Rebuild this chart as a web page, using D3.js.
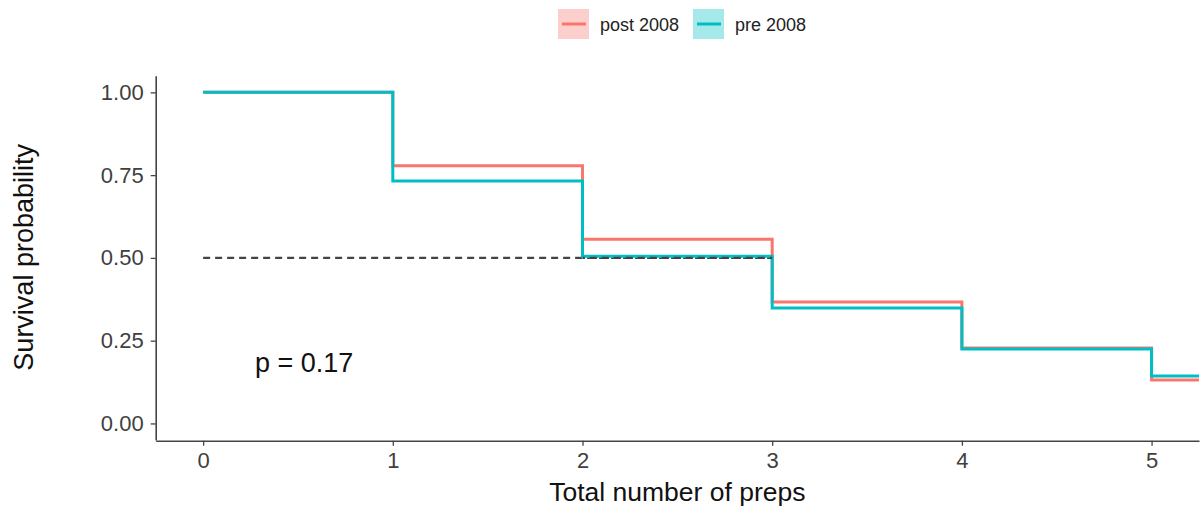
<!DOCTYPE html>
<html>
<head>
<meta charset="utf-8">
<script src="https://cdn.jsdelivr.net/npm/d3@7"></script>
<style>
body { margin:0; background:#fff; }
text { font-family: "Liberation Sans", Arial, sans-serif; }
</style>
</head>
<body>
<div id="chart"></div>
<script>
// data
var times = [0, 1, 2, 3, 4, 5];
var postValues = [1.00, 0.778, 0.556, 0.367, 0.228, 0.131];
var preValues = [1.00, 0.732, 0.505, 0.349, 0.225, 0.143];
var seriesNames = ["post 2008", "pre 2008"];
var seriesColors = ["#F8766D", "#00BFC4"];
var xTicks = [0, 1, 2, 3, 4, 5];
var yTicks = [0, 0.25, 0.5, 0.75, 1];
var medianTime = 3;
var pLabel = "p = 0.17";

var width = 1203, height = 509;
var plot = {left:155.7, right:1199, top:75.8, bottom:440};

var svg = d3.select("#chart").append("svg")
	.attr("width", width)
	.attr("height", height);

var xscale = d3.scaleLinear()
	.domain([-0.25, 5.25])
	.range([plot.left, plot.right]);
var yscale = d3.scaleLinear()
	.domain([-0.05, 1.05])
	.range([plot.bottom, plot.top]);

// axes
var xaxis = d3.axisBottom(xscale).tickValues(xTicks).tickFormat(d3.format("d"))
	.tickSize(5).tickSizeOuter(0).tickPadding(7);
var yaxis = d3.axisLeft(yscale).tickValues(yTicks).tickFormat(d3.format(".2f"))
	.tickSize(5).tickSizeOuter(0).tickPadding(7);

var gx = svg.append("g")
	.attr("transform", "translate(0," + (plot.bottom + 0.7) + ")")
	.call(xaxis);
var gy = svg.append("g")
	.attr("transform", "translate(" + plot.left + ",0)")
	.call(yaxis);

[gx, gy].forEach(function(g){
	g.select(".domain").attr("stroke", "#444").attr("stroke-width", 1.6);
	g.selectAll(".tick line").attr("stroke", "#444").attr("stroke-width", 1.3);
	g.selectAll(".tick text").attr("fill", "#404040").style("font-size", "22px");
});

// median line
function medianLine(from){
	svg.append("line")
		.attr("x1", xscale(from)).attr("x2", xscale(medianTime))
		.attr("y1", yscale(0.5)).attr("y2", yscale(0.5))
		.attr("stroke", "#444")
		.attr("stroke-width", 2.2)
		.attr("stroke-dasharray", "7,5")
		.attr("stroke-dashoffset", -((xscale(from) - xscale(0)) % 12));
}
medianLine(0);

// survival curves
var line = d3.line()
	.x(function(d){ return xscale(d.t); })
	.y(function(d){ return yscale(d.v); })
	.curve(d3.curveStepAfter);

[postValues, preValues].forEach(function(vals, i){
	var pts = times.map(function(t, j){ return {t:t, v:vals[j]}; });
	pts.push({t:5.25, v:vals[vals.length-1]});
	svg.append("path")
		.datum(pts)
		.attr("d", line)
		.attr("fill", "none")
		.attr("stroke", seriesColors[i])
		.attr("stroke-width", 3);
});

// dashed part drawn again over the pre curve, as in the picture
medianLine(2);

// p value
svg.append("text")
	.attr("x", 255)
	.attr("y", 372)
	.attr("fill", "#111")
	.style("font-size", "27px")
	.text(pLabel);

// axis titles
svg.append("text")
	.attr("x", (plot.left + plot.right) / 2)
	.attr("y", 501)
	.attr("text-anchor", "middle")
	.attr("fill", "#111")
	.style("font-size", "26.5px")
	.text("Total number of preps");

svg.append("text")
	.attr("transform", "translate(33," + ((141.7 + 373) / 2) + ") rotate(-90)")
	.attr("text-anchor", "middle")
	.attr("fill", "#111")
	.style("font-size", "27px")
	.text("Survival probability");

// legend
var legendX = [558, 693];
var legend = svg.append("g");
seriesNames.forEach(function(name, i){
	var g = legend.append("g").attr("transform", "translate(" + legendX[i] + ",9)");
	g.append("rect")
		.attr("width", 31).attr("height", 30)
		.attr("fill", seriesColors[i])
		.attr("fill-opacity", 0.35);
	g.append("line")
		.attr("x1", 4).attr("x2", 28)
		.attr("y1", 15).attr("y2", 15)
		.attr("stroke", seriesColors[i])
		.attr("stroke-width", 3);
	g.append("text")
		.attr("x", 42)
		.attr("y", 22)
		.attr("fill", "#222")
		.style("font-size", "18px")
		.text(name);
});
</script>
</body>
</html>
